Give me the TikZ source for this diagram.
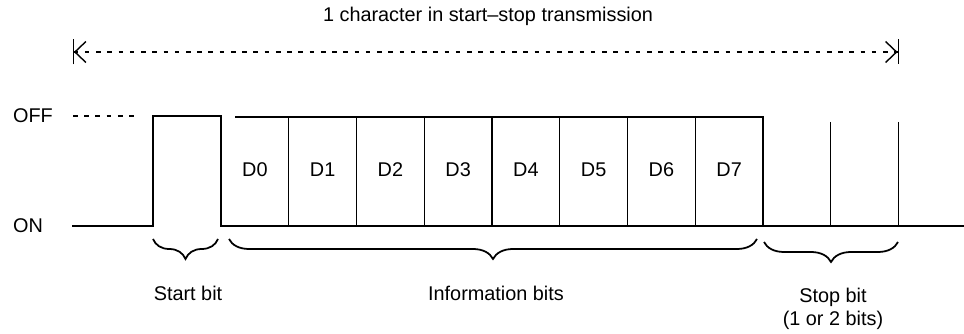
\documentclass[tikz,border=0pt]{standalone}
\usepackage{fontspec}
\setmainfont{Liberation Sans}
\usetikzlibrary{arrows.meta,decorations.pathreplacing}

\begin{document}
\begin{tikzpicture}[
    x=0.02cm, y=-0.02cm,
    every node/.style={font=\fontsize{11.3}{13.5}\selectfont, inner sep=1pt},
    sig/.style={line width=1.1pt, line join=miter},
    divline/.style={line width=0.8pt},
    lvl/.style={line width=0.8pt, dash pattern=on 2.6pt off 3.8pt},
    span/.style={lvl, {Bar[width=0.5cm]Straight Barb[length=0.22cm,width=0.42cm]}-{Straight Barb[length=0.22cm,width=0.42cm]Bar[width=0.5cm]}},
    brc/.style={decorate, decoration={brace, mirror, amplitude=0.4cm}, line width=1pt}
  ]
    \useasboundingbox (0,0) rectangle (964,334);
    \def\bw{67.75}

    % title and span of one character
    \node (title) at (488,16) {1 character in start--stop transmission};
    \coordinate (spanL) at (72.5,52);
    \coordinate (spanR) at (899,52);
    \draw[span] (spanL) -- (spanR);

    % levels
    \node[anchor=west] (lOff) at (11,116) {OFF};
    \node[anchor=west] (lOn) at (11,226) {ON};
    \draw[lvl] (73,116) -- (140,116);

    % start bit and line
    \draw[sig] (72,226) -- (153.25,226) -- (153.25,116) -- (221,116) -- (221,226) -- (964,226);

    % information bits
    \draw[sig] (235,117) -- (763,117) -- (763,226);
    \foreach \i in {1,...,7}
      \draw[divline] (221+\i*\bw,117) -- (221+\i*\bw,226);
    \foreach \i in {0,...,7}
      \node (d\i) at (221+\i*\bw+0.5*\bw,170) {D\i};

    % stop bits
    \foreach \i in {1,2}
      \draw[divline] (763+\i*\bw,122) -- (763+\i*\bw,226);

    % braces and labels
    \draw[brc] (153,239) -- (218,239);
    \draw[brc] (229,239) -- (757,239);
    \draw[brc] (764,242) -- (898,242);
    \node (lStart) at (188,293) {Start bit};
    \node (lInfo) at (496,293) {Information bits};
    \node[align=center] (lStop) at (833,309) {Stop bit\\(1 or 2 bits)};
\end{tikzpicture}
\end{document}
